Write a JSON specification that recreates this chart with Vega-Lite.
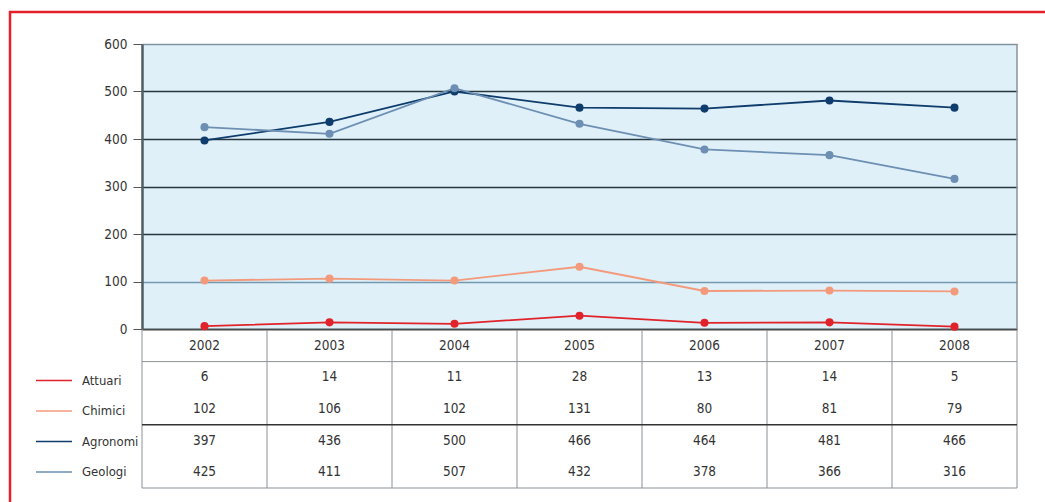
{
  "$schema": "https://vega.github.io/schema/vega-lite/v6.json",
  "width": 1040,
  "height": 495,
  "autosize": {"type": "none"},
  "padding": {"left": 10, "top": 12, "right": 0, "bottom": 0},
  "background": "#ffffff",
  "config": {
    "view": {"stroke": "#e5202a", "strokeWidth": 2.5, "fill": "#ffffff"},
    "font": "Liberation Sans Narrow, DejaVu Sans Condensed, sans-serif"
  },
  "data": {
    "values": [
      {"year": "2002", "series": "Attuari", "value": 6},
      {"year": "2003", "series": "Attuari", "value": 14},
      {"year": "2004", "series": "Attuari", "value": 11},
      {"year": "2005", "series": "Attuari", "value": 28},
      {"year": "2006", "series": "Attuari", "value": 13},
      {"year": "2007", "series": "Attuari", "value": 14},
      {"year": "2008", "series": "Attuari", "value": 5},
      {"year": "2002", "series": "Chimici", "value": 102},
      {"year": "2003", "series": "Chimici", "value": 106},
      {"year": "2004", "series": "Chimici", "value": 102},
      {"year": "2005", "series": "Chimici", "value": 131},
      {"year": "2006", "series": "Chimici", "value": 80},
      {"year": "2007", "series": "Chimici", "value": 81},
      {"year": "2008", "series": "Chimici", "value": 79},
      {"year": "2002", "series": "Agronomi", "value": 397},
      {"year": "2003", "series": "Agronomi", "value": 436},
      {"year": "2004", "series": "Agronomi", "value": 500},
      {"year": "2005", "series": "Agronomi", "value": 466},
      {"year": "2006", "series": "Agronomi", "value": 464},
      {"year": "2007", "series": "Agronomi", "value": 481},
      {"year": "2008", "series": "Agronomi", "value": 466},
      {"year": "2002", "series": "Geologi", "value": 425},
      {"year": "2003", "series": "Geologi", "value": 411},
      {"year": "2004", "series": "Geologi", "value": 507},
      {"year": "2005", "series": "Geologi", "value": 432},
      {"year": "2006", "series": "Geologi", "value": 378},
      {"year": "2007", "series": "Geologi", "value": 366},
      {"year": "2008", "series": "Geologi", "value": 316}
    ]
  },
  "layer": [
    {
      "layer": [
        {
          "transform": [{"filter": "datum.series === 'Attuari'"}],
          "mark": {"type": "rect", "fill": "#2f9bd6", "fillOpacity": 0.15},
          "encoding": {
            "x": {"field": "year", "type": "ordinal", "scale": {"type": "band", "domain": ["2002","2003","2004","2005","2006","2007","2008"], "range": [132, 1007], "paddingInner": 0, "paddingOuter": 0}, "axis": null},
            "y": {
              "datum": 600, "type": "quantitative",
              "scale": {"domain": [0, 600], "range": [317, 32], "nice": false, "zero": true},
              "axis": {
                "title": null, "offset": -132, "values": [0, 100, 200, 300, 400, 500, 600],
                "domainColor": "#555555", "domainWidth": 2.5,
                "tickColor": "#555555", "tickSize": 9, "tickWidth": 1,
                "labelFontSize": 13.5, "labelColor": "#333333", "labelPadding": 6,
                "grid": true,
                "gridColor": {"condition": [{"test": "datum.value === 0", "value": "#4a4a4a"}, {"test": "datum.value === 100", "value": "#7f98a9"}, {"test": "datum.value === 600", "value": "#8c9296"}], "value": "#262626"},
                "gridWidth": {"condition": {"test": "datum.value === 0", "value": 2}, "value": 1.3}
              }
            },
            "y2": {"datum": 0}
          }
        },
        {
          "transform": [{"filter": "datum.series === 'Attuari' && datum.year === '2008'"}],
          "mark": {"type": "rule", "color": "#8c9296", "strokeWidth": 1.5},
          "encoding": {
            "x": {"field": "year", "type": "ordinal", "bandPosition": 1},
            "y": {"datum": 0, "type": "quantitative"},
            "y2": {"datum": 600}
          }
        },
        {
          "mark": {"type": "line", "strokeWidth": 1.8, "point": {"filled": true, "size": 65}},
          "encoding": {
            "x": {"field": "year", "type": "ordinal", "bandPosition": 0.5},
            "y": {"field": "value", "type": "quantitative"},
            "color": {
              "field": "series", "type": "nominal",
              "scale": {"domain": ["Attuari", "Chimici", "Agronomi", "Geologi"], "range": ["#e0232a", "#f39a7c", "#0e3c6c", "#6d8fb3"]},
              "legend": {
                "title": null, "orient": "none", "legendX": 49, "legendY": 361.5,
                "symbolType": "M-5,0H1", "symbolSize": 144, "symbolStrokeWidth": 1.5,
                "labelFontSize": 13, "labelColor": "#333333", "labelOffset": 9,
                "rowPadding": 16.5, "padding": 0
              }
            }
          }
        }
      ]
    },
    {
      "layer": [
        {
          "transform": [{"filter": "datum.series === 'Attuari'"}],
          "mark": {"type": "rule", "color": "#8c9296", "strokeWidth": 1},
          "encoding": {
            "x": {"field": "year", "type": "ordinal", "bandPosition": 0},
            "y": {"datum": "Anno", "type": "nominal", "bandPosition": 0, "scale": {"type": "band", "domain": ["Anno", "Attuari", "Chimici", "Agronomi", "Geologi"], "range": [318, 476], "paddingInner": 0, "paddingOuter": 0}, "axis": null},
            "y2": {"datum": "Geologi", "bandPosition": 1}
          }
        },
        {
          "transform": [{"filter": "datum.series === 'Attuari' && datum.year === '2008'"}],
          "mark": {"type": "rule", "color": "#8c9296", "strokeWidth": 1},
          "encoding": {
            "x": {"field": "year", "type": "ordinal", "bandPosition": 1},
            "y": {"datum": "Anno", "type": "nominal", "bandPosition": 0, "axis": null},
            "y2": {"datum": "Geologi", "bandPosition": 1}
          }
        },
        {
          "transform": [{"filter": "datum.series === 'Attuari' && datum.year === '2002'"}],
          "mark": {"type": "rule", "color": "#8c9296", "strokeWidth": 1},
          "encoding": {
            "x": {"datum": "2002", "type": "ordinal", "bandPosition": 0},
            "x2": {"datum": "2008", "bandPosition": 1},
            "y": {"datum": "Attuari", "type": "nominal", "bandPosition": 0, "axis": null}
          }
        },
        {
          "transform": [{"filter": "datum.series === 'Attuari' && datum.year === '2002'"}],
          "mark": {"type": "rule", "color": "#8c9296", "strokeWidth": 1},
          "encoding": {
            "x": {"datum": "2002", "type": "ordinal", "bandPosition": 0},
            "x2": {"datum": "2008", "bandPosition": 1},
            "y": {"datum": "Geologi", "type": "nominal", "bandPosition": 1, "axis": null}
          }
        },
        {
          "transform": [{"filter": "datum.series === 'Attuari' && datum.year === '2002'"}],
          "mark": {"type": "rule", "color": "#333333", "strokeWidth": 1.5},
          "encoding": {
            "x": {"datum": "2002", "type": "ordinal", "bandPosition": 0},
            "x2": {"datum": "2008", "bandPosition": 1},
            "y": {"datum": "Agronomi", "type": "nominal", "bandPosition": 0, "axis": null}
          }
        },
        {
          "transform": [{"filter": "datum.series === 'Attuari'"}],
          "mark": {"type": "text", "fontSize": 13.5, "color": "#333333", "align": "center", "baseline": "middle"},
          "encoding": {
            "x": {"field": "year", "type": "ordinal", "bandPosition": 0.5},
            "y": {"datum": "Anno", "type": "nominal", "bandPosition": 0.5, "axis": null},
            "text": {"field": "year"}
          }
        },
        {
          "mark": {"type": "text", "fontSize": 13.5, "color": "#333333", "align": "center", "baseline": "middle"},
          "encoding": {
            "x": {"field": "year", "type": "ordinal", "bandPosition": 0.5},
            "y": {"field": "series", "type": "nominal", "bandPosition": 0.5, "axis": null},
            "text": {"field": "value", "type": "quantitative"}
          }
        }
      ]
    }
  ],
  "resolve": {"scale": {"y": "independent"}, "axis": {"y": "independent"}}
}
